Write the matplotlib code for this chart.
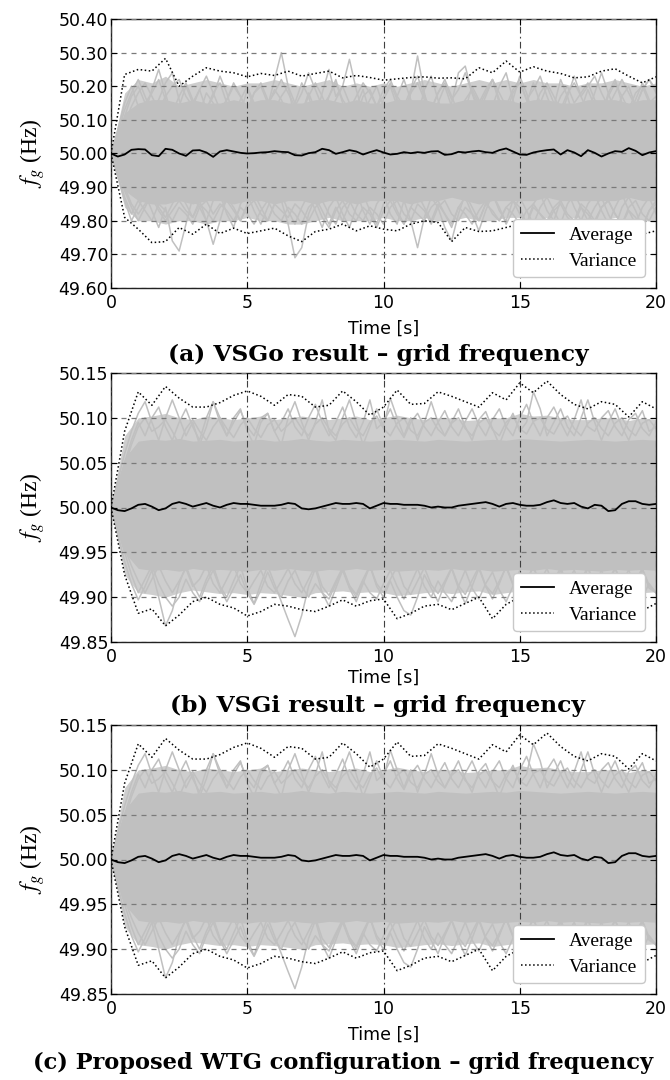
import numpy as np
import matplotlib
matplotlib.use('Agg')
import matplotlib.pyplot as plt

plt.rcParams['font.family'] = ['DejaVu Sans']
plt.rcParams['mathtext.fontset'] = 'stix'

# sample times: traces/average every 0.25 s, envelopes every 0.5 s
t = np.linspace(0, 20, 81)
t_env = np.linspace(0, 20, 41)

# ---------------- (a) VSGo ----------------
avg_a = [50.000,
         49.991, 49.997, 50.011, 50.013, 50.012, 49.995, 49.992, 50.014,
         50.011, 50.000, 49.993, 50.009, 50.010, 50.003, 49.990, 50.006,
         50.010, 50.006, 50.002, 50.000, 50.001, 50.003, 50.004, 50.007,
         50.005, 50.004, 49.995, 49.994, 50.001, 50.004, 50.014, 50.010,
         49.999, 50.004, 50.010, 50.006, 49.997, 50.004, 50.010, 50.003,
         49.997, 49.999, 50.004, 50.001, 50.004, 50.002, 50.006, 50.007,
         49.996, 49.998, 50.005, 50.003, 50.006, 50.008, 50.004, 50.002,
         50.010, 50.015, 50.006, 49.997, 49.996, 50.003, 50.007, 50.010,
         50.012, 49.997, 50.010, 50.003, 49.992, 50.010, 50.002, 49.991,
         50.000, 50.007, 50.005, 50.016, 50.008, 49.995, 50.003, 50.007]

var_hi_a = [50.000, 50.235, 50.250, 50.245, 50.283, 50.200, 50.230, 50.255, 50.245, 50.240,
            50.228, 50.238, 50.232, 50.245, 50.230, 50.238, 50.245, 50.225, 50.232, 50.226,
            50.218, 50.222, 50.226, 50.228, 50.224, 50.225, 50.222, 50.255, 50.240, 50.275,
            50.242, 50.258, 50.245, 50.238, 50.225, 50.228, 50.245, 50.252, 50.230, 50.210,
            50.228]
var_lo_a = [50.000, 49.810, 49.775, 49.735, 49.738, 49.780, 49.760, 49.790, 49.762, 49.778,
            49.762, 49.770, 49.778, 49.755, 49.738, 49.768, 49.775, 49.790, 49.770, 49.785,
            49.775, 49.770, 49.790, 49.800, 49.795, 49.738, 49.780, 49.768, 49.770, 49.780,
            49.790, 49.785, 49.780, 49.775, 49.780, 49.770, 49.775, 49.780, 49.770, 49.760,
            49.770]

# dense part of the gray bundle and its looser outer fringe
core_hi_a = [50.00, 50.12, 50.15, 50.16, 50.16, 50.15, 50.16, 50.15, 50.15, 50.16,
             50.15, 50.16, 50.16, 50.15, 50.15, 50.16, 50.16, 50.15, 50.16, 50.15,
             50.15, 50.16, 50.16, 50.16, 50.15, 50.15, 50.16, 50.16, 50.16, 50.16,
             50.15, 50.16, 50.16, 50.15, 50.15, 50.16, 50.16, 50.16, 50.15, 50.16,
             50.16]
core_lo_a = [50.00, 49.89, 49.86, 49.85, 49.85, 49.86, 49.85, 49.86, 49.86, 49.85,
             49.86, 49.86, 49.85, 49.86, 49.86, 49.85, 49.86, 49.86, 49.85, 49.86,
             49.86, 49.86, 49.85, 49.86, 49.86, 49.87, 49.86, 49.85, 49.86, 49.86,
             49.86, 49.86, 49.87, 49.86, 49.86, 49.86, 49.86, 49.86, 49.87, 49.86,
             49.86]
outer_hi_a = [50.00, 50.18, 50.22, 50.21, 50.23, 50.20, 50.21, 50.22, 50.21, 50.20,
              50.21, 50.21, 50.22, 50.21, 50.20, 50.21, 50.22, 50.20, 50.21, 50.20,
              50.21, 50.20, 50.21, 50.22, 50.21, 50.20, 50.21, 50.22, 50.21, 50.22,
              50.21, 50.22, 50.21, 50.21, 50.20, 50.21, 50.21, 50.22, 50.21, 50.20,
              50.21]
outer_lo_a = [50.00, 49.84, 49.80, 49.80, 49.79, 49.80, 49.80, 49.79, 49.80, 49.80,
              49.81, 49.80, 49.80, 49.79, 49.79, 49.80, 49.81, 49.80, 49.80, 49.80,
              49.81, 49.80, 49.80, 49.81, 49.80, 49.80, 49.81, 49.80, 49.80, 49.81,
              49.81, 49.80, 49.81, 49.80, 49.81, 49.80, 49.80, 49.81, 49.80, 49.80,
              49.80]

up1_a = [50.00,
         50.07, 50.15, 50.20, 50.14, 50.12, 50.19, 50.25, 50.18,
         50.10, 50.14, 50.20, 50.15, 50.09, 50.13, 50.18, 50.21,
         50.15, 50.08, 50.12, 50.19, 50.14, 50.08, 50.14, 50.22,
         50.30, 50.20, 50.10, 50.12, 50.18, 50.13, 50.10, 50.17,
         50.22, 50.15, 50.09, 50.14, 50.19, 50.12, 50.10, 50.16,
         50.20, 50.14, 50.11, 50.18, 50.29, 50.18, 50.10, 50.15,
         50.20, 50.14, 50.09, 50.13, 50.20, 50.16, 50.10, 50.14,
         50.20, 50.24, 50.16, 50.10, 50.15, 50.21, 50.15, 50.09,
         50.14, 50.22, 50.17, 50.10, 50.13, 50.19, 50.14, 50.11,
         50.18, 50.22, 50.15, 50.10, 50.16, 50.21, 50.16, 50.12]
up2_a = [50.00,
         50.06, 50.13, 50.18, 50.22, 50.17, 50.12, 50.16, 50.21,
         50.24, 50.16, 50.10, 50.15, 50.19, 50.13, 50.17, 50.23,
         50.18, 50.11, 50.16, 50.20, 50.15, 50.10, 50.14, 50.19,
         50.16, 50.11, 50.15, 50.21, 50.17, 50.10, 50.18, 50.25,
         50.17, 50.20, 50.28, 50.19, 50.12, 50.16, 50.20, 50.14,
         50.10, 50.17, 50.22, 50.16, 50.11, 50.19, 50.23, 50.16,
         50.10, 50.15, 50.24, 50.26, 50.18, 50.12, 50.17, 50.22,
         50.15, 50.10, 50.16, 50.23, 50.18, 50.11, 50.15, 50.20,
         50.15, 50.11, 50.17, 50.23, 50.17, 50.12, 50.18, 50.24,
         50.18, 50.12, 50.17, 50.20, 50.14, 50.19, 50.22, 50.18]
up3_a = [50.00,
         50.05, 50.11, 50.17, 50.20, 50.15, 50.18, 50.22, 50.16,
         50.12, 50.17, 50.21, 50.16, 50.12, 50.18, 50.15, 50.11,
         50.16, 50.20, 50.17, 50.12, 50.18, 50.21, 50.16, 50.13,
         50.17, 50.20, 50.15, 50.12, 50.17, 50.21, 50.17, 50.12,
         50.16, 50.20, 50.15, 50.11, 50.17, 50.19, 50.14, 50.17,
         50.21, 50.16, 50.12, 50.18, 50.21, 50.16, 50.13, 50.18,
         50.22, 50.17, 50.12, 50.16, 50.19, 50.15, 50.19, 50.22,
         50.16, 50.12, 50.18, 50.21, 50.16, 50.19, 50.23, 50.17,
         50.12, 50.17, 50.20, 50.15, 50.18, 50.21, 50.16, 50.12,
         50.17, 50.21, 50.17, 50.13, 50.18, 50.20, 50.15, 50.17]
up4_a = [50.00,
         50.04, 50.09, 50.14, 50.18, 50.21, 50.17, 50.13, 50.17,
         50.20, 50.22, 50.17, 50.14, 50.19, 50.23, 50.18, 50.13,
         50.16, 50.21, 50.17, 50.13, 50.18, 50.20, 50.15, 50.18,
         50.22, 50.18, 50.14, 50.18, 50.24, 50.19, 50.14, 50.17,
         50.21, 50.16, 50.13, 50.17, 50.21, 50.18, 50.14, 50.19,
         50.22, 50.17, 50.14, 50.19, 50.23, 50.17, 50.13, 50.18,
         50.21, 50.16, 50.19, 50.24, 50.18, 50.14, 50.18, 50.22,
         50.18, 50.14, 50.19, 50.22, 50.16, 50.13, 50.18, 50.21,
         50.17, 50.13, 50.18, 50.21, 50.17, 50.20, 50.23, 50.18,
         50.14, 50.18, 50.22, 50.18, 50.14, 50.19, 50.22, 50.19]
lo1_a = [50.00,
         49.93, 49.86, 49.80, 49.84, 49.88, 49.83, 49.78, 49.84,
         49.74, 49.71, 49.79, 49.87, 49.84, 49.80, 49.86, 49.88,
         49.82, 49.78, 49.85, 49.88, 49.83, 49.79, 49.84, 49.89,
         49.86, 49.79, 49.69, 49.72, 49.82, 49.87, 49.83, 49.79,
         49.84, 49.80, 49.85, 49.89, 49.83, 49.79, 49.85, 49.88,
         49.82, 49.79, 49.86, 49.80, 49.72, 49.81, 49.87, 49.84,
         49.78, 49.74, 49.82, 49.88, 49.84, 49.80, 49.85, 49.88,
         49.83, 49.80, 49.86, 49.84, 49.79, 49.85, 49.88, 49.83,
         49.80, 49.86, 49.89, 49.84, 49.80, 49.85, 49.88, 49.83,
         49.79, 49.84, 49.88, 49.83, 49.79, 49.84, 49.87, 49.82]
lo2_a = [50.00,
         49.95, 49.89, 49.84, 49.80, 49.84, 49.88, 49.84, 49.81,
         49.85, 49.89, 49.85, 49.81, 49.86, 49.80, 49.73, 49.80,
         49.87, 49.84, 49.80, 49.85, 49.88, 49.84, 49.80, 49.85,
         49.88, 49.83, 49.79, 49.84, 49.88, 49.83, 49.78, 49.84,
         49.87, 49.82, 49.78, 49.84, 49.88, 49.83, 49.79, 49.85,
         49.88, 49.83, 49.79, 49.84, 49.88, 49.84, 49.80, 49.85,
         49.82, 49.78, 49.84, 49.87, 49.82, 49.77, 49.83, 49.88,
         49.84, 49.79, 49.83, 49.87, 49.83, 49.79, 49.84, 49.87,
         49.83, 49.79, 49.85, 49.88, 49.84, 49.80, 49.84, 49.87,
         49.82, 49.78, 49.84, 49.87, 49.83, 49.78, 49.83, 49.86]
lo3_a = [50.00,
         49.94, 49.87, 49.82, 49.86, 49.83, 49.80, 49.85, 49.83,
         49.80, 49.84, 49.82, 49.79, 49.84, 49.86, 49.82, 49.85,
         49.83, 49.80, 49.84, 49.82, 49.79, 49.83, 49.86, 49.82,
         49.80, 49.84, 49.82, 49.79, 49.84, 49.86, 49.81, 49.78,
         49.83, 49.86, 49.82, 49.80, 49.84, 49.82, 49.78, 49.83,
         49.86, 49.82, 49.79, 49.84, 49.82, 49.80, 49.84, 49.86,
         49.82, 49.79, 49.84, 49.82, 49.79, 49.83, 49.86, 49.82,
         49.80, 49.84, 49.82, 49.79, 49.83, 49.85, 49.82, 49.79,
         49.83, 49.85, 49.81, 49.79, 49.84, 49.82, 49.79, 49.84,
         49.86, 49.82, 49.79, 49.83, 49.81, 49.78, 49.83, 49.85]
lo4_a = [50.00,
         49.96, 49.90, 49.85, 49.82, 49.85, 49.87, 49.83, 49.80,
         49.83, 49.86, 49.83, 49.81, 49.85, 49.83, 49.80, 49.84,
         49.86, 49.83, 49.80, 49.84, 49.86, 49.82, 49.80, 49.85,
         49.83, 49.81, 49.85, 49.83, 49.80, 49.84, 49.86, 49.82,
         49.79, 49.84, 49.86, 49.82, 49.80, 49.84, 49.82, 49.79,
         49.84, 49.86, 49.82, 49.80, 49.85, 49.83, 49.79, 49.84,
         49.86, 49.82, 49.80, 49.84, 49.82, 49.80, 49.85, 49.83,
         49.80, 49.84, 49.86, 49.82, 49.79, 49.84, 49.82, 49.80,
         49.84, 49.86, 49.82, 49.80, 49.85, 49.83, 49.80, 49.84,
         49.86, 49.82, 49.79, 49.84, 49.86, 49.82, 49.80, 49.84]

# ---------------- (b) VSGi  /  (c) proposed WTG ----------------
avg_b = [50.000,
         49.997, 49.996, 49.999, 50.003, 50.004, 50.001, 49.997, 49.999,
         50.004, 50.006, 50.004, 50.001, 50.003, 50.005, 50.002, 50.000,
         50.003, 50.005, 50.004, 50.004, 50.003, 50.002, 50.002, 50.002,
         50.003, 50.005, 50.004, 49.999, 49.998, 49.999, 50.001, 50.003,
         50.005, 50.004, 50.004, 50.005, 50.004, 49.999, 50.002, 50.005,
         50.004, 50.004, 50.003, 50.003, 50.003, 50.002, 50.000, 50.001,
         50.000, 50.000, 50.002, 50.003, 50.004, 50.005, 50.006, 50.004,
         50.001, 50.004, 50.005, 50.003, 50.002, 50.002, 50.003, 50.006,
         50.008, 50.005, 50.004, 50.005, 50.001, 49.999, 50.003, 50.002,
         49.996, 49.997, 50.004, 50.007, 50.007, 50.004, 50.003, 50.004]

var_hi_b = [50.000, 50.085, 50.129, 50.114, 50.135, 50.122, 50.112, 50.112, 50.117, 50.125,
            50.130, 50.124, 50.114, 50.126, 50.124, 50.112, 50.114, 50.130, 50.118, 50.103,
            50.112, 50.131, 50.115, 50.116, 50.129, 50.124, 50.118, 50.112, 50.128, 50.120,
            50.139, 50.128, 50.141, 50.126, 50.115, 50.110, 50.118, 50.115, 50.101, 50.118,
            50.110]
var_lo_b = [50.000, 49.925, 49.882, 49.887, 49.868, 49.880, 49.895, 49.900, 49.892, 49.888,
            49.879, 49.884, 49.892, 49.890, 49.886, 49.884, 49.890, 49.897, 49.890, 49.896,
            49.898, 49.876, 49.882, 49.890, 49.892, 49.886, 49.893, 49.900, 49.876, 49.892,
            49.900, 49.895, 49.890, 49.888, 49.892, 49.895, 49.890, 49.888, 49.892, 49.885,
            49.893]

core_hi_b = [50.000, 50.055, 50.074, 50.076, 50.075, 50.077, 50.074, 50.075, 50.076, 50.074,
             50.075, 50.076, 50.074, 50.075, 50.077, 50.075, 50.074, 50.076, 50.075, 50.074,
             50.075, 50.076, 50.075, 50.074, 50.076, 50.075, 50.074, 50.075, 50.076, 50.075,
             50.077, 50.076, 50.075, 50.074, 50.075, 50.076, 50.075, 50.074, 50.075, 50.076,
             50.075]
core_lo_b = [50.000, 49.950, 49.932, 49.930, 49.931, 49.929, 49.932, 49.930, 49.931, 49.930,
             49.929, 49.931, 49.930, 49.932, 49.930, 49.929, 49.931, 49.930, 49.932, 49.930,
             49.931, 49.929, 49.930, 49.931, 49.930, 49.932, 49.930, 49.931, 49.929, 49.930,
             49.931, 49.930, 49.932, 49.930, 49.931, 49.930, 49.929, 49.931, 49.930, 49.931,
             49.930]
outer_hi_b = [50.000, 50.080, 50.100, 50.102, 50.105, 50.100, 50.098, 50.102, 50.100, 50.098,
              50.100, 50.102, 50.098, 50.100, 50.102, 50.100, 50.098, 50.100, 50.102, 50.098,
              50.100, 50.103, 50.100, 50.098, 50.100, 50.100, 50.097, 50.098, 50.100, 50.100,
              50.105, 50.102, 50.103, 50.100, 50.098, 50.098, 50.100, 50.100, 50.097, 50.100,
              50.098]
outer_lo_b = [50.000, 49.925, 49.905, 49.903, 49.900, 49.905, 49.908, 49.906, 49.904, 49.905,
              49.903, 49.905, 49.904, 49.902, 49.900, 49.905, 49.906, 49.907, 49.905, 49.906,
              49.905, 49.902, 49.903, 49.905, 49.906, 49.904, 49.906, 49.907, 49.903, 49.905,
              49.907, 49.906, 49.905, 49.905, 49.906, 49.907, 49.906, 49.905, 49.906, 49.905,
              49.906]

up1_b = [50.000,
         50.030, 50.060, 50.085, 50.105, 50.118, 50.095, 50.075, 50.100,
         50.120, 50.100, 50.080, 50.095, 50.070, 50.090, 50.118, 50.095,
         50.080, 50.100, 50.110, 50.085, 50.070, 50.095, 50.105, 50.085,
         50.070, 50.100, 50.118, 50.095, 50.075, 50.095, 50.120, 50.085,
         50.075, 50.100, 50.120, 50.095, 50.070, 50.090, 50.110, 50.090,
         50.122, 50.100, 50.080, 50.100, 50.075, 50.095, 50.118, 50.095,
         50.080, 50.095, 50.110, 50.090, 50.075, 50.098, 50.107, 50.088,
         50.070, 50.090, 50.105, 50.085, 50.095, 50.129, 50.110, 50.080,
         50.095, 50.110, 50.090, 50.080, 50.100, 50.120, 50.095, 50.075,
         50.095, 50.110, 50.090, 50.075, 50.095, 50.108, 50.085, 50.090]
up2_b = [50.000,
         50.025, 50.050, 50.075, 50.095, 50.080, 50.100, 50.112, 50.090,
         50.075, 50.095, 50.110, 50.090, 50.075, 50.100, 50.118, 50.100,
         50.080, 50.095, 50.108, 50.090, 50.080, 50.100, 50.105, 50.085,
         50.095, 50.110, 50.090, 50.080, 50.100, 50.115, 50.095, 50.080,
         50.095, 50.112, 50.090, 50.078, 50.095, 50.120, 50.088, 50.095,
         50.110, 50.090, 50.078, 50.095, 50.105, 50.090, 50.080, 50.095,
         50.108, 50.090, 50.080, 50.096, 50.110, 50.092, 50.080, 50.098,
         50.110, 50.090, 50.080, 50.100, 50.115, 50.095, 50.080, 50.100,
         50.112, 50.095, 50.080, 50.098, 50.120, 50.090, 50.085, 50.100,
         50.108, 50.090, 50.080, 50.098, 50.105, 50.088, 50.080, 50.095]
up3_b = [50.000,
         50.020, 50.045, 50.070, 50.090, 50.100, 50.085, 50.090, 50.098,
         50.085, 50.070, 50.088, 50.098, 50.085, 50.075, 50.090, 50.100,
         50.088, 50.078, 50.092, 50.100, 50.088, 50.078, 50.092, 50.098,
         50.085, 50.092, 50.100, 50.088, 50.080, 50.093, 50.100, 50.088,
         50.080, 50.093, 50.100, 50.087, 50.080, 50.095, 50.102, 50.088,
         50.080, 50.094, 50.100, 50.086, 50.080, 50.095, 50.100, 50.087,
         50.080, 50.094, 50.100, 50.088, 50.080, 50.094, 50.100, 50.087,
         50.080, 50.095, 50.102, 50.088, 50.082, 50.096, 50.100, 50.087,
         50.082, 50.096, 50.102, 50.088, 50.080, 50.094, 50.100, 50.088,
         50.080, 50.094, 50.100, 50.087, 50.080, 50.094, 50.098, 50.088]
lo1_b = [50.000,
         49.970, 49.940, 49.915, 49.897, 49.912, 49.930, 49.900, 49.868,
         49.885, 49.915, 49.935, 49.915, 49.900, 49.920, 49.935, 49.912,
         49.900, 49.918, 49.935, 49.910, 49.893, 49.915, 49.935, 49.915,
         49.895, 49.875, 49.856, 49.880, 49.912, 49.932, 49.905, 49.890,
         49.910, 49.930, 49.910, 49.895, 49.915, 49.935, 49.912, 49.900,
         49.918, 49.900, 49.885, 49.880, 49.900, 49.925, 49.910, 49.895,
         49.915, 49.932, 49.910, 49.893, 49.912, 49.932, 49.912, 49.898,
         49.915, 49.935, 49.915, 49.900, 49.918, 49.935, 49.912, 49.895,
         49.912, 49.930, 49.910, 49.900, 49.915, 49.932, 49.915, 49.900,
         49.915, 49.932, 49.912, 49.900, 49.918, 49.930, 49.910, 49.905]
lo2_b = [50.000,
         49.975, 49.950, 49.925, 49.905, 49.920, 49.935, 49.915, 49.900,
         49.890, 49.900, 49.920, 49.905, 49.895, 49.915, 49.930, 49.910,
         49.895, 49.910, 49.925, 49.905, 49.892, 49.908, 49.928, 49.910,
         49.900, 49.918, 49.930, 49.912, 49.900, 49.915, 49.905, 49.898,
         49.915, 49.932, 49.912, 49.900, 49.918, 49.905, 49.898, 49.915,
         49.930, 49.912, 49.898, 49.915, 49.932, 49.912, 49.900, 49.918,
         49.905, 49.895, 49.912, 49.930, 49.910, 49.898, 49.915, 49.928,
         49.908, 49.895, 49.912, 49.930, 49.910, 49.900, 49.918, 49.932,
         49.912, 49.900, 49.918, 49.930, 49.910, 49.898, 49.915, 49.930,
         49.910, 49.900, 49.918, 49.930, 49.912, 49.900, 49.915, 49.905]
lo3_b = [50.000,
         49.980, 49.955, 49.935, 49.918, 49.905, 49.920, 49.935, 49.918,
         49.905, 49.918, 49.932, 49.912, 49.920, 49.935, 49.915, 49.905,
         49.920, 49.935, 49.915, 49.905, 49.918, 49.930, 49.912, 49.905,
         49.918, 49.932, 49.915, 49.905, 49.920, 49.935, 49.912, 49.902,
         49.918, 49.933, 49.913, 49.903, 49.920, 49.935, 49.915, 49.905,
         49.920, 49.934, 49.912, 49.903, 49.918, 49.933, 49.914, 49.904,
         49.918, 49.933, 49.913, 49.903, 49.919, 49.934, 49.913, 49.904,
         49.918, 49.933, 49.914, 49.902, 49.918, 49.934, 49.913, 49.903,
         49.918, 49.933, 49.914, 49.903, 49.919, 49.934, 49.913, 49.904,
         49.918, 49.933, 49.914, 49.903, 49.919, 49.932, 49.913, 49.905]

yticks_a = [49.60, 49.70, 49.80, 49.90, 50.00, 50.10, 50.20, 50.30, 50.40]
yticks_b = [49.85, 49.90, 49.95, 50.00, 50.05, 50.10, 50.15]
xticks = [0, 5, 10, 15, 20]

captions = ['(a) VSGo result \u2013 grid frequency',
            '(b) VSGi result \u2013 grid frequency',
            '(c) Proposed WTG configuration \u2013 grid frequency']

panel_a = dict(avg=avg_a, var_hi=var_hi_a, var_lo=var_lo_a,
               core_hi=core_hi_a, core_lo=core_lo_a, outer_hi=outer_hi_a, outer_lo=outer_lo_a,
               traces=[up1_a, up2_a, up3_a, up4_a, lo1_a, lo2_a, lo3_a, lo4_a], yticks=yticks_a)
panel_b = dict(avg=avg_b, var_hi=var_hi_b, var_lo=var_lo_b,
               core_hi=core_hi_b, core_lo=core_lo_b, outer_hi=outer_hi_b, outer_lo=outer_lo_b,
               traces=[up1_b, up2_b, up3_b, lo1_b, lo2_b, lo3_b], yticks=yticks_b)

GRAY = '#c0c0c0'
LIGHT = '#cecece'
W, H = 670, 1080

fig = plt.figure(figsize=(W / 100, H / 100), dpi=100)

# axes boxes in pixels: left, top, right, bottom
boxes = [(111, 19, 656, 288), (111, 373, 656, 642), (111, 725, 656, 994)]
xlabel_pad = [6, 2, 6]
caption_pos = [(168, 355), (170, 706), (33, 1063)]
caption_size = [16.8, 16.8, 16.2]

for i, (p, box) in enumerate(zip([panel_a, panel_b, panel_b], boxes)):
    l, tp, r, b = box
    ax = fig.add_axes([l / W, 1 - b / H, (r - l) / W, (b - tp) / H])

    ax.fill_between(t_env, p['outer_lo'], p['outer_hi'], color=LIGHT, lw=0, zorder=1)
    ax.fill_between(t_env, p['core_lo'], p['core_hi'], color=GRAY, lw=0, zorder=1)
    for tr in p['traces']:
        ax.plot(t, tr, color=GRAY, lw=1.1, zorder=1.2)

    avg_line, = ax.plot(t, p['avg'], color='black', lw=1.3, zorder=3, label='Average')
    var_line, = ax.plot(t_env, p['var_hi'], color='black', ls=':', lw=1.1, zorder=3, label='Variance')
    ax.plot(t_env, p['var_lo'], color='black', ls=':', lw=1.1, zorder=3)

    ax.set_xlim(0, 20)
    ax.set_ylim(p['yticks'][0], p['yticks'][-1])
    ax.set_xticks(xticks)
    ax.set_yticks(p['yticks'])
    ax.set_yticklabels(['%.2f' % v for v in p['yticks']])

    ax.set_axisbelow(False)
    ax.yaxis.grid(True, linestyle=(0, (4, 4)), color='#7a7a7a', lw=0.9)
    ax.xaxis.grid(True, linestyle=(0, (6, 3, 1.5, 3)), color='#404040', lw=0.8)

    ax.tick_params(direction='in', length=4, top=True, right=True, labelsize=12.5)
    ax.tick_params(axis='x', pad=4)
    ax.tick_params(axis='y', pad=2)
    for s in ax.spines.values():
        s.set_linewidth(1.0)
        s.set_color('#222222')

    ax.set_xlabel('Time [s]', fontsize=12.5, labelpad=xlabel_pad[i])
    ax.set_ylabel('$f_g$ (Hz)', fontfamily='Liberation Serif', fontsize=17, labelpad=8)

    leg = ax.legend(handles=[avg_line, var_line], loc='lower right',
                    prop={'family': 'Liberation Serif', 'size': 14},
                    fancybox=True, framealpha=1, edgecolor='#c8c8c8',
                    borderaxespad=0.55, handlelength=1.7, labelspacing=0.4)
    leg.set_zorder(5)

    cx, cy = caption_pos[i]
    fig.text(cx / W, 1 - cy / H, captions[i], fontfamily='DejaVu Serif', fontweight='bold',
             fontsize=caption_size[i], ha='left', va='center')

fig.savefig('out.png', dpi=100)
